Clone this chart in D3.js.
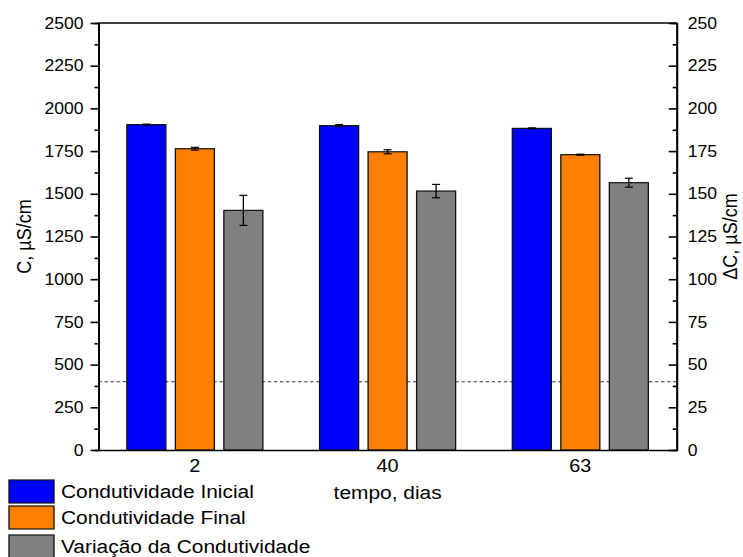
<!DOCTYPE html>
<html>
<head>
<meta charset="utf-8">
<script src="https://cdn.jsdelivr.net/npm/d3@7"></script>
<style>
  html, body { margin: 0; padding: 0; background: #fff; }
  svg text { font-family: "Liberation Sans", Arial, sans-serif; fill: #000; }
</style>
</head>
<body>
<svg id="chart"></svg>
<script>
// data
const days = ['2', '40', '63'];
const initialC = [1905, 1899, 1883];
const initialErr = [3, 6, 3];
const finalC = [1764, 1746, 1729];
const finalErr = [8, 12, 3];
const deltaC = [140.3, 151.6, 156.5];     // right axis
const deltaErr = [8.8, 3.9, 2.6];
const leftTicks = d3.range(0, 2501, 250);
const rightTicks = d3.range(0, 251, 25);
const refLine = 400;
const seriesNames = ['Condutividade Inicial', 'Condutividade Final', 'Variação da Condutividade'];
const seriesColors = ['#0000ff', '#ff8000', '#808080'];

// the reference is a bit wider than tall, so draw in a narrower box and stretch it
const stretch = 1.1;
const W = 743 / stretch, H = 557;
const svg = d3.select('#chart')
    .attr('width', 743).attr('height', 557)
    .attr('viewBox', `0 0 ${W} ${H}`)
    .attr('preserveAspectRatio', 'none');

const margin = {left: 98.5 / stretch, right: 676.7 / stretch, top: 23, bottom: 450};

let x = d3.scaleBand().domain(days).range([margin.left, margin.right]);
let yL = d3.scaleLinear().domain([0, 2500]).range([margin.bottom, margin.top]);
let yR = d3.scaleLinear().domain([0, 250]).range([margin.bottom, margin.top]);
let step = 48.5 / stretch;
let sub = d3.scaleBand().domain([0, 1, 2]).range([-1.5 * step, 1.5 * step]).paddingInner(0.196).paddingOuter(0.098);

let rows = [];
days.forEach((d, i) => {
    rows.push({day: d, s: 0, v: initialC[i], e: initialErr[i], y: yL});
    rows.push({day: d, s: 1, v: finalC[i], e: finalErr[i], y: yL});
    rows.push({day: d, s: 2, v: deltaC[i], e: deltaErr[i], y: yR});
});

let bx = d => x(d.day) + x.bandwidth() / 2 + sub(d.s);

// dashed reference line
svg.append('line')
    .attr('x1', margin.left).attr('x2', margin.right)
    .attr('y1', yL(refLine)).attr('y2', yL(refLine))
    .attr('stroke', '#333').attr('stroke-width', 1)
    .attr('stroke-dasharray', '3,2.5');

// bars
svg.append('g').selectAll('rect').data(rows).enter().append('rect')
    .attr('x', bx)
    .attr('y', d => d.y(d.v))
    .attr('width', sub.bandwidth())
    .attr('height', d => margin.bottom - d.y(d.v))
    .attr('fill', d => seriesColors[d.s])
    .attr('stroke', '#111')
    .attr('stroke-width', 1.2);

// error bars
let eb = svg.append('g').selectAll('g').data(rows).enter().append('g')
    .attr('stroke', '#000').attr('stroke-width', 1.2);
let cx = d => bx(d) + sub.bandwidth() / 2;
let cap = 4 / stretch;
eb.append('line').attr('x1', cx).attr('x2', cx)
    .attr('y1', d => d.y(d.v + d.e)).attr('y2', d => d.y(d.v - d.e));
eb.append('line').attr('x1', d => cx(d) - cap).attr('x2', d => cx(d) + cap)
    .attr('y1', d => d.y(d.v + d.e)).attr('y2', d => d.y(d.v + d.e));
eb.append('line').attr('x1', d => cx(d) - cap).attr('x2', d => cx(d) + cap)
    .attr('y1', d => d.y(d.v - d.e)).attr('y2', d => d.y(d.v - d.e));

// axes
let minorL = d3.range(125, 2500, 250);
let minorR = d3.range(12.5, 250, 25);
let fmt = d3.format('d');

svg.append('g')
    .attr('transform', `translate(${margin.left},0)`)
    .call(d3.axisLeft(yL).tickValues(minorL).tickSize(4 / stretch).tickFormat(''));
svg.append('g').attr('class', 'ax')
    .attr('transform', `translate(${margin.left},0)`)
    .call(d3.axisLeft(yL).tickValues(leftTicks).tickFormat(fmt).tickSize(8 / stretch).tickSizeOuter(0).tickPadding(7 / stretch));

svg.append('g')
    .attr('transform', `translate(${margin.right},0)`)
    .call(d3.axisRight(yR).tickValues(minorR).tickSize(-4 / stretch).tickFormat(''));
svg.append('g').attr('class', 'ax')
    .attr('transform', `translate(${margin.right},0)`)
    .call(d3.axisRight(yR).tickValues(rightTicks).tickFormat(fmt).tickSize(-8 / stretch).tickSizeOuter(0).tickPadding(11 / stretch));

svg.append('g').attr('class', 'ax xax')
    .attr('transform', `translate(0,${margin.bottom})`)
    .call(d3.axisBottom(x).tickSize(0).tickSizeOuter(0).tickPadding(9));

svg.append('line')
    .attr('x1', margin.left).attr('x2', margin.right)
    .attr('y1', margin.top).attr('y2', margin.top);

svg.selectAll('.domain, .tick line, svg > line:last-child')
    .attr('stroke', '#000').attr('stroke-width', 1.6);
svg.selectAll('.ax text').style('font-size', '16px').attr('fill', '#000');
svg.selectAll('.xax text').style('font-size', '18px');

// axis titles
svg.append('text')
    .attr('transform', `translate(${31 / stretch},${(margin.top + margin.bottom) / 2}) rotate(-90)`)
    .attr('text-anchor', 'middle').style('font-size', '18px')
    .text('C, µS/cm');
svg.append('text')
    .attr('transform', `translate(${737 / stretch},${(margin.top + margin.bottom) / 2}) rotate(-90)`)
    .attr('text-anchor', 'middle').style('font-size', '18px')
    .text('ΔC, µS/cm');
svg.append('text')
    .attr('x', (margin.left + margin.right) / 2).attr('y', 499)
    .attr('text-anchor', 'middle').style('font-size', '19px')
    .text('tempo, dias');

// legend
let legY = [480, 506, 535];
let leg = svg.append('g').selectAll('g').data(seriesNames).enter().append('g');
leg.append('rect')
    .attr('x', 9 / stretch).attr('y', (d, i) => legY[i])
    .attr('width', 45 / stretch).attr('height', 23)
    .attr('fill', (d, i) => seriesColors[i])
    .attr('stroke', '#111').attr('stroke-width', 1.2);
leg.append('text')
    .attr('x', 61 / stretch).attr('y', (d, i) => legY[i] + 18)
    .style('font-size', '19px')
    .text(d => d);
</script>
</body>
</html>
